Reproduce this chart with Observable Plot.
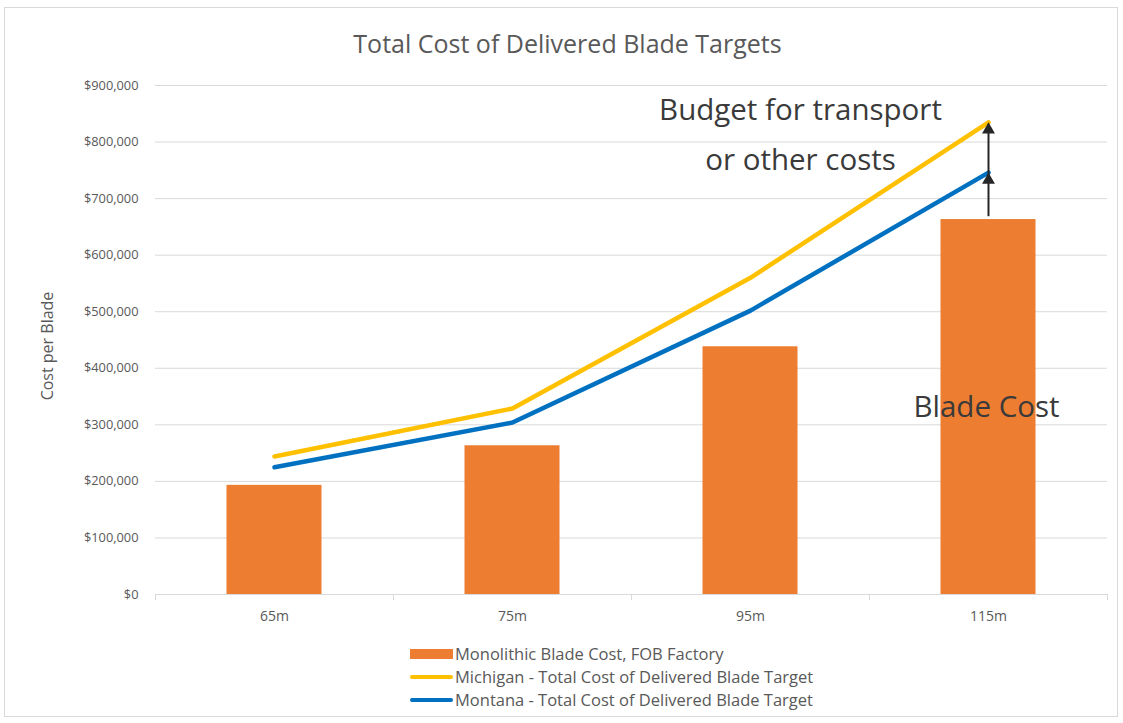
<!DOCTYPE html>
<html>
<head>
<meta charset="utf-8">
<script src="https://cdn.jsdelivr.net/npm/d3@7"></script>
<script src="https://cdn.jsdelivr.net/npm/@observablehq/plot@0.6"></script>
<style>
  html, body { margin: 0; padding: 0; background: #fff; }
  #wrap { position: relative; width: 1123px; height: 723px; overflow: hidden; font-family: "Open Sans", sans-serif; color: #595959; }
  #frame { position: absolute; left: 4px; top: 7px; width: 1114px; height: 710px; border: 1px solid #d9d9d9; box-sizing: border-box; }
  #title { position: absolute; left: 0; top: 26px; width: 1135px; text-align: center; font-size: 25px; line-height: 34px; color: #595959; }
  #chart { position: absolute; left: 0; top: 70px; }
  #ylabel { position: absolute; left: 47px; top: 346px; transform: translate(-50%, -50%) rotate(-90deg); font-size: 16px; white-space: nowrap; color: #595959; }
  #legend { position: absolute; left: 410px; top: 642px; font-size: 16.5px; color: #595959; }
  .row { height: 23px; display: flex; align-items: center; }
  .sw { width: 43px; margin-right: 2px; }
</style>
</head>
<body>
<div id="wrap">
  <div id="frame"></div>
  <div id="title">Total Cost of Delivered Blade Targets</div>
  <div id="chart"></div>
  <div id="ylabel">Cost per Blade</div>
  <div id="legend"></div>
</div>
<script>
const categories = ["65m", "75m", "95m", "115m"];
const bladeCost = [193000, 263000, 438000, 663000];
const michigan = [244000, 329000, 560000, 835000];
const montana = [225000, 304000, 502000, 746000];
const yTicks = [0, 100000, 200000, 300000, 400000, 500000, 600000, 700000, 800000, 900000];
const seriesNames = ["Monolithic Blade Cost, FOB Factory", "Michigan - Total Cost of Delivered Blade Target", "Montana - Total Cost of Delivered Blade Target"];
const colors = ["#ED7D31", "#FFC000", "#0070C0"];

const bars = categories.map((c, i) => ({cat: c, v: bladeCost[i]}));
const mi = categories.map((c, i) => ({cat: c, v: michigan[i]}));
const mo = categories.map((c, i) => ({cat: c, v: montana[i]}));
const last = categories[categories.length - 1];
const lastIdx = categories.length - 1;

const W = 1123, H = 560;
const mL = 155, mR = 16, mT = 15, mB = 36;
const bw = (W - mL - mR) / categories.length;
const fmt = d => "$" + d3.format(",")(d);

const chart = Plot.plot({
  width: W, height: H,
  marginLeft: mL, marginRight: mR, marginTop: mT, marginBottom: mB,
  style: { fontFamily: "Open Sans, sans-serif", fontSize: "12.5px", color: "#595959", background: "transparent", overflow: "visible" },
  x: { domain: categories, padding: 0, label: null },
  y: { domain: [0, 900000], label: null },
  marks: [
    Plot.gridY(yTicks.filter(d => d > 0), { stroke: "#d9d9d9", strokeOpacity: 1, strokeWidth: 1 }),
    Plot.axisY(yTicks, { tickSize: 0, tickPadding: 17, tickFormat: fmt, label: null, fill: "#595959", fontSize: 12.8 }),
    Plot.axisX({ tickSize: 0, tickPadding: 17, label: null, fill: "#595959", fontSize: 14 }),
    Plot.ruleY([0], { stroke: "#d9d9d9", strokeWidth: 1 }),
    Plot.ruleX(categories, { x: d => d, y1: 0, y2: -11000, dx: -bw / 2, stroke: "#d9d9d9" }),
    Plot.ruleX([last], { x: d => d, y1: 0, y2: -11000, dx: bw / 2, stroke: "#d9d9d9" }),
    Plot.barY(bars, { x: "cat", y: "v", fill: colors[0], insetLeft: 71.5, insetRight: 71.5 }),
    Plot.lineY(mi, { x: "cat", y: "v", stroke: colors[1], strokeWidth: 4.5, strokeLinejoin: "round", strokeLinecap: "round" }),
    Plot.lineY(mo, { x: "cat", y: "v", stroke: colors[2], strokeWidth: 4.5, strokeLinejoin: "round", strokeLinecap: "round" }),
    Plot.ruleX([last], { x: d => d, y1: bladeCost[lastIdx] + 5000, y2: michigan[lastIdx] - 4000, stroke: "#262626", strokeWidth: 2 }),
    Plot.dot([montana[lastIdx], michigan[lastIdx]], { x: () => last, y: d => d, symbol: "triangle", r: 4.8, fill: "#262626", stroke: "none", dy: 7.5 }),
    Plot.text(["Budget for transport"], { x: () => last, y: () => 856000, dx: -188, text: d => d, fontSize: 29.5, fill: "#3a3a3a", textAnchor: "middle" }),
    Plot.text(["or other costs"], { x: () => last, y: () => 767000, dx: -188, text: d => d, fontSize: 29.5, fill: "#3a3a3a", textAnchor: "middle" }),
    Plot.text(["Blade Cost"], { x: () => last, y: () => 330000, dx: -2, text: d => d, fontSize: 29.5, fill: "#3a3a3a", textAnchor: "middle" })
  ]
});
document.getElementById("chart").appendChild(chart);

const legend = document.getElementById("legend");
seriesNames.forEach((name, i) => {
  const row = document.createElement("div");
  row.className = "row";
  const sw = document.createElement("div");
  sw.className = "sw";
  sw.style.background = colors[i];
  sw.style.height = i === 0 ? "10px" : "4px";
  if (i > 0) sw.style.borderRadius = "2px";
  const t = document.createElement("span");
  t.textContent = name;
  row.appendChild(sw);
  row.appendChild(t);
  legend.appendChild(row);
});
</script>
</body>
</html>
